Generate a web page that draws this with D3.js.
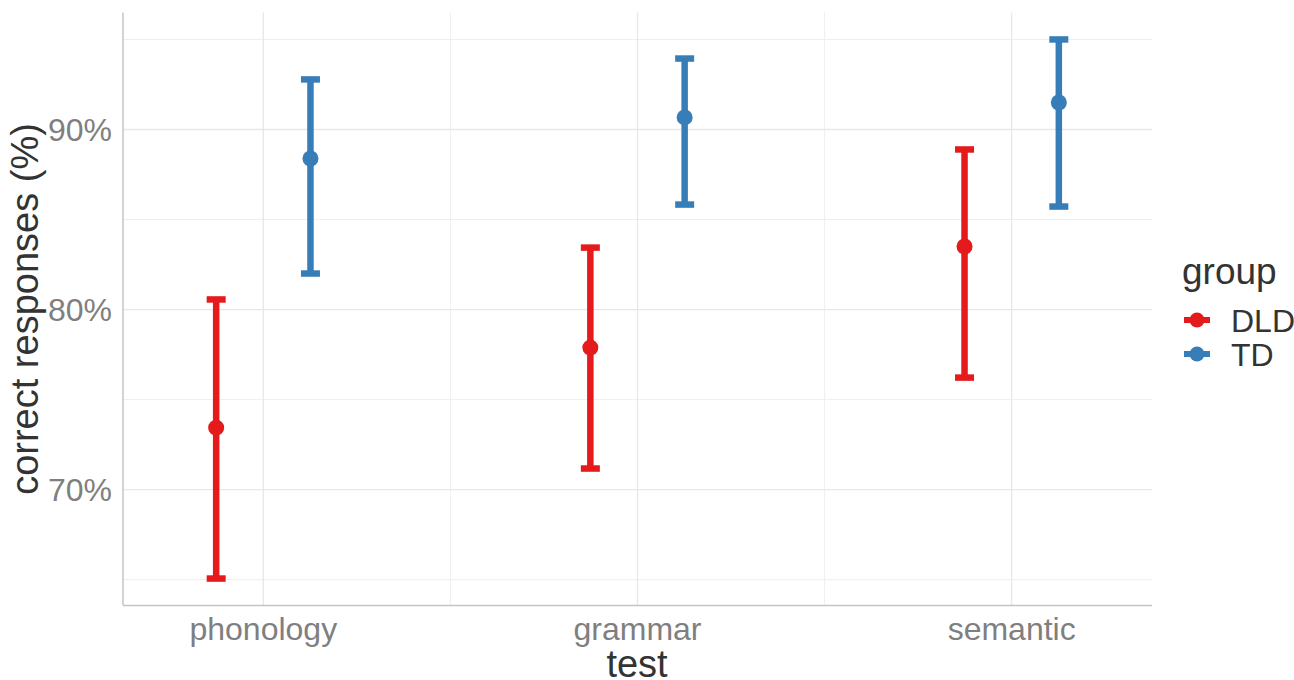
<!DOCTYPE html>
<html>
<head>
<meta charset="utf-8">
<script src="https://cdn.jsdelivr.net/npm/d3@7"></script>
<style>
  html, body { margin: 0; padding: 0; background: #fff; }
  svg { display: block; font-family: "Liberation Sans", Arial, sans-serif; }
</style>
</head>
<body>
<svg id="chart" width="1294" height="680"></svg>
<script>
// Test categories and groups
const tests = ["phonology", "grammar", "semantic"];
const groups = ["DLD", "TD"];
const groupColors = ["#E41A1C", "#377EB8"];

// Mean proportion correct with lower / upper interval bounds, per group, in test order
const dldMean  = [0.7344, 0.7789, 0.8350];
const dldLower = [0.6506, 0.7117, 0.7622];
const dldUpper = [0.8056, 0.8344, 0.8889];
const tdMean   = [0.8839, 0.9067, 0.9150];
const tdLower  = [0.8200, 0.8583, 0.8572];
const tdUpper  = [0.9278, 0.9394, 0.9500];

const yMajorTicks = [0.7, 0.8, 0.9];
const yMinorTicks = [0.65, 0.75, 0.85, 0.95];

const rows = [];
tests.forEach((t, i) => {
  rows.push({ test: t, group: "DLD", mean: dldMean[i], lo: dldLower[i], hi: dldUpper[i] });
  rows.push({ test: t, group: "TD",  mean: tdMean[i],  lo: tdLower[i],  hi: tdUpper[i] });
});

const svg = d3.select("#chart");
const panel = { left: 123, right: 1152, top: 12.5, bottom: 605.5 };

// y domain with 5% padding around the data range
const allVals = rows.flatMap(d => [d.lo, d.hi]);
const yMin = d3.min(allVals), yMax = d3.max(allVals);
const pad = (yMax - yMin) * 0.05;
const y = d3.scaleLinear().domain([yMin - pad, yMax + pad]).range([panel.bottom, panel.top]);

const x = d3.scalePoint().domain(tests).range([panel.left, panel.right]).padding(0.375);
const dodge = d3.scalePoint().domain(groups).range([-0.126, 0.126]).padding(0);
const color = d3.scaleOrdinal().domain(groups).range(groupColors);
const step = x.step();

const grid = svg.append("g");
// minor horizontal grid
grid.selectAll("line.ymin").data(yMinorTicks).join("line")
  .attr("x1", panel.left).attr("x2", panel.right)
  .attr("y1", d => y(d)).attr("y2", d => y(d))
  .attr("stroke", "#efefef").attr("stroke-width", 1);
// minor vertical grid between categories
const xMinor = tests.slice(1).map((t, i) => (x(tests[i]) + x(t)) / 2);
grid.selectAll("line.xmin").data(xMinor).join("line")
  .attr("x1", d => d).attr("x2", d => d)
  .attr("y1", panel.top).attr("y2", panel.bottom)
  .attr("stroke", "#efefef").attr("stroke-width", 1);
// major grid
grid.selectAll("line.ymaj").data(yMajorTicks).join("line")
  .attr("x1", panel.left).attr("x2", panel.right)
  .attr("y1", d => y(d)).attr("y2", d => y(d))
  .attr("stroke", "#e8e8e8").attr("stroke-width", 1.3);
grid.selectAll("line.xmaj").data(tests).join("line")
  .attr("x1", d => x(d)).attr("x2", d => x(d))
  .attr("y1", panel.top).attr("y2", panel.bottom)
  .attr("stroke", "#e8e8e8").attr("stroke-width", 1.3);

// axis lines
svg.append("line").attr("x1", panel.left).attr("x2", panel.left)
  .attr("y1", panel.top).attr("y2", panel.bottom)
  .attr("stroke", "#c4c4c4").attr("stroke-width", 1.5);
svg.append("line").attr("x1", panel.left).attr("x2", panel.right)
  .attr("y1", panel.bottom).attr("y2", panel.bottom)
  .attr("stroke", "#c4c4c4").attr("stroke-width", 1.5);

// y tick labels
const fmt = d3.format(".0%");
svg.append("g").selectAll("text").data(yMajorTicks).join("text")
  .attr("x", 112).attr("y", d => y(d))
  .attr("dy", "0.36em").attr("text-anchor", "end")
  .attr("font-size", 32).attr("fill", "#7f7f7f")
  .text(d => fmt(d));

// x tick labels
svg.append("g").selectAll("text").data(tests).join("text")
  .attr("x", d => x(d)).attr("y", 640)
  .attr("text-anchor", "middle")
  .attr("font-size", 32).attr("fill", "#7f7f7f")
  .text(d => d);

// axis titles
svg.append("text").attr("x", 637).attr("y", 677)
  .attr("text-anchor", "middle").attr("font-size", 38).attr("fill", "#333")
  .text("test");
svg.append("text")
  .attr("transform", `translate(38, ${(panel.top + panel.bottom) / 2}) rotate(-90)`)
  .attr("text-anchor", "middle").attr("font-size", 38).attr("fill", "#333")
  .text("correct responses (%)");

// error bars and points
const capW = 19, lineW = 6.5;
const marks = svg.append("g");
const gx = d => x(d.test) + dodge(d.group) * step;
marks.selectAll("line.bar").data(rows).join("line")
  .attr("x1", gx).attr("x2", gx)
  .attr("y1", d => y(d.lo)).attr("y2", d => y(d.hi))
  .attr("stroke", d => color(d.group)).attr("stroke-width", lineW);
marks.selectAll("line.capHi").data(rows).join("line")
  .attr("x1", d => gx(d) - capW / 2).attr("x2", d => gx(d) + capW / 2)
  .attr("y1", d => y(d.hi)).attr("y2", d => y(d.hi))
  .attr("stroke", d => color(d.group)).attr("stroke-width", lineW);
marks.selectAll("line.capLo").data(rows).join("line")
  .attr("x1", d => gx(d) - capW / 2).attr("x2", d => gx(d) + capW / 2)
  .attr("y1", d => y(d.lo)).attr("y2", d => y(d.lo))
  .attr("stroke", d => color(d.group)).attr("stroke-width", lineW);
marks.selectAll("circle").data(rows).join("circle")
  .attr("cx", gx).attr("cy", d => y(d.mean)).attr("r", 8)
  .attr("fill", d => color(d.group));

// legend
const legend = svg.append("g");
legend.append("text").attr("x", 1182).attr("y", 284)
  .attr("font-size", 37).attr("fill", "#333").text("group");
const keys = legend.selectAll("g.key").data(groups).join("g")
  .attr("transform", (d, i) => `translate(0, ${320 + i * 34})`);
keys.append("line").attr("x1", 1184).attr("x2", 1210).attr("y1", 0).attr("y2", 0)
  .attr("stroke", d => color(d)).attr("stroke-width", 6);
keys.append("circle").attr("cx", 1197).attr("cy", 0).attr("r", 7.5)
  .attr("fill", d => color(d));
keys.append("text").attr("x", 1231).attr("y", 0).attr("dy", "0.36em")
  .attr("font-size", 32).attr("fill", "#333").text(d => d);
</script>
</body>
</html>
